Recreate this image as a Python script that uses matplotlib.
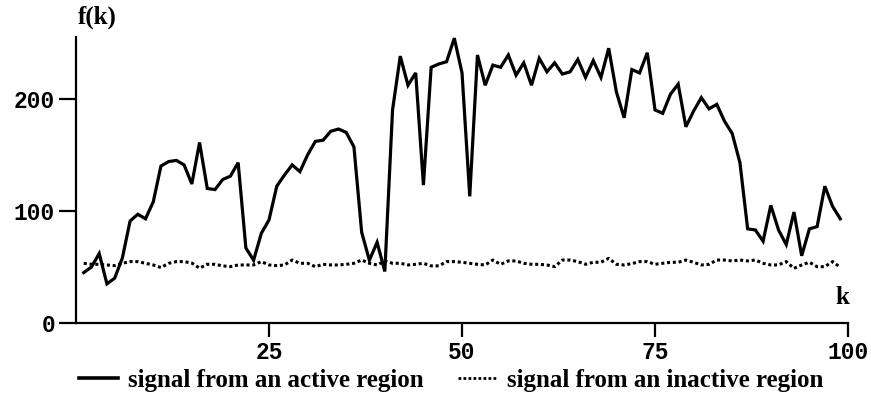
import matplotlib.pyplot as plt
from matplotlib.lines import Line2D

k = list(range(1, 100))

active = [45, 50, 62, 35, 40, 58, 91, 97, 93, 108,
          140, 144, 145, 141, 124, 161, 120, 119, 128, 131,
          143, 67, 56, 80, 92, 122, 132, 141, 135, 150,
          162, 163, 171, 173, 170, 157, 81, 56, 72, 46,
          190, 238, 212, 223, 123, 228, 231, 233, 254, 223,
          113, 239, 212, 230, 228, 239, 221, 232, 212, 236,
          224, 232, 222, 224, 235, 219, 234, 219, 245, 206,
          183, 226, 223, 241, 190, 187, 204, 213, 175, 189,
          201, 191, 195, 180, 169, 143, 84, 83, 73, 105,
          83, 70, 99, 60, 84, 86, 122, 104, 93]

inactive = [53.3, 52.4, 52.4, 51.8, 51.2, 53.3, 54.8, 54.8, 53.3, 51.8,
            49.5, 53.3, 54.8, 54.8, 53.5, 49.0, 52.4, 52.4, 51.0, 50.3,
            51.8, 51.8, 51.8, 54.8, 51.8, 51.2, 51.8, 56.2, 53.3, 53.3,
            50.3, 52.4, 51.8, 51.8, 52.4, 53.3, 56.2, 53.3, 51.8, 55.4,
            53.3, 53.3, 51.8, 52.4, 53.3, 51.0, 51.0, 54.8, 54.8, 54.2,
            53.3, 52.4, 51.8, 56.2, 52.4, 55.4, 55.4, 53.3, 52.4, 52.4,
            51.8, 50.3, 56.2, 56.2, 54.8, 52.4, 54.2, 54.2, 57.7, 52.4,
            51.8, 53.0, 54.8, 54.8, 52.4, 53.3, 54.2, 54.2, 56.2, 54.2,
            51.8, 52.4, 56.2, 56.2, 55.4, 56.2, 55.4, 56.2, 53.3, 51.8,
            51.8, 54.8, 48.8, 51.8, 54.2, 50.3, 50.3, 54.8, 49.7]

xticks = [25, 50, 75, 100]
yticks = [0, 100, 200]

serif = {'family': 'Liberation Serif', 'weight': 'bold'}
mono = {'family': 'Liberation Mono', 'weight': 'bold', 'size': 16.5}

fig = plt.figure(figsize=(8.71, 3.94), dpi=100)
ax = fig.add_axes([0.0873, 0.180, 0.8863, 0.726])

ax.plot(k, active, color='black', lw=2.3, solid_joinstyle='miter')
ax.plot(k, inactive, color='black', lw=2.2, linestyle=(0, (1, 0.9)))

ax.set_xlim(0, 100)
ax.set_ylim(0, 255)
ax.spines['top'].set_visible(False)
ax.spines['right'].set_visible(False)
ax.spines['left'].set_linewidth(1.6)
ax.spines['bottom'].set_linewidth(1.6)

ax.set_xticks(xticks)
ax.set_yticks(yticks)
ax.set_xticklabels([str(t) for t in xticks], fontdict=mono)
ax.set_yticklabels([str(t) for t in yticks], fontdict=mono)
ax.tick_params(axis='x', direction='out', length=10, width=1.6, pad=3)
ax.tick_params(axis='y', direction='out', length=12, width=1.6, pad=3)

fig.text(0.089, 0.955, 'f(k)', fontdict=serif, fontsize=18, va='center', ha='left')
fig.text(0.975, 0.245, 'k', fontdict=serif, fontsize=18, va='center', ha='right')

handles = [Line2D([], [], color='black', lw=2.6),
           Line2D([], [], color='black', lw=2.0, linestyle=(0, (1, 0.8)))]
labels = ['signal from an active region', 'signal from an inactive region']
fig.legend(handles, labels, loc='center', bbox_to_anchor=(0.518, 0.035),
           ncol=2, frameon=False, prop={'family': 'Liberation Serif', 'weight': 'bold', 'size': 18},
           handlelength=1.55, handletextpad=0.4, columnspacing=1.4, borderaxespad=0)

fig.savefig('out.png', dpi=100)
